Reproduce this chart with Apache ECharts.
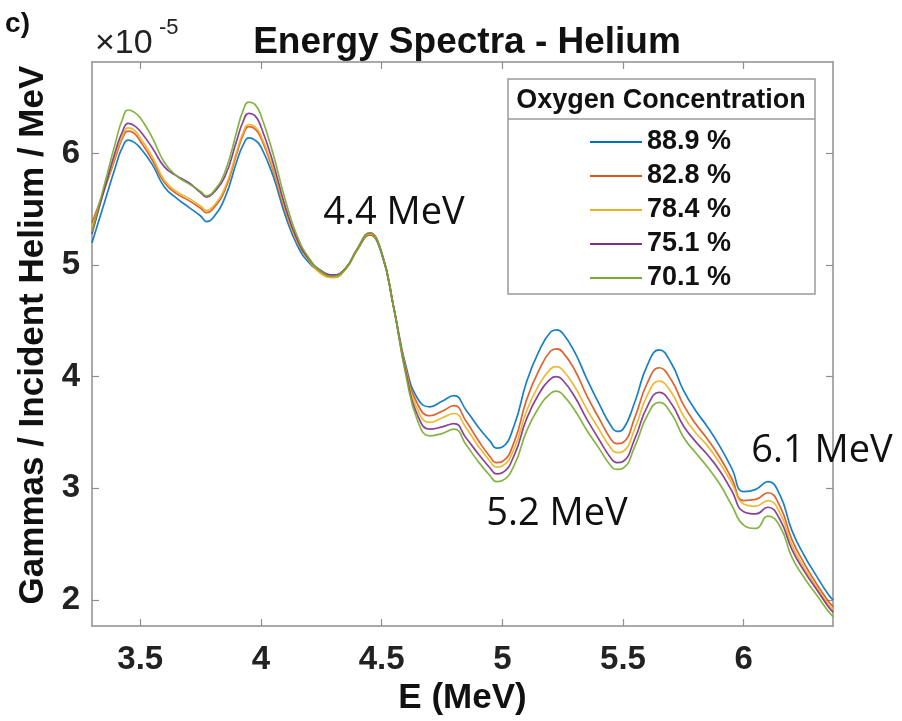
<!DOCTYPE html>
<html>
<head>
<meta charset="utf-8">
<title>Energy Spectra - Helium</title>
<script src="https://cdn.jsdelivr.net/npm/echarts@6/dist/echarts.min.js"></script>
<style>
  html, body { margin: 0; padding: 0; background: #ffffff; }
  #chart { width: 902px; height: 721px; }
</style>
</head>
<body>
<div id="chart"></div>
<script>
// Photon energy bins (MeV); extra bins sit on the peaks and valleys
const energy = [
  3.30, 3.35, 3.40, 3.425, 3.45, 3.475, 3.50, 3.55, 3.60, 3.65,
  3.70, 3.75, 3.775, 3.80, 3.85, 3.90, 3.925, 3.95, 3.975, 4.00,
  4.05, 4.10, 4.15, 4.20, 4.25, 4.30, 4.35, 4.40, 4.45, 4.50,
  4.55, 4.60, 4.65, 4.70, 4.75, 4.80, 4.85, 4.90, 4.95, 4.975,
  5.00, 5.05, 5.10, 5.15, 5.20, 5.225, 5.25, 5.30, 5.35, 5.40,
  5.45, 5.475, 5.50, 5.55, 5.60, 5.65, 5.70, 5.75, 5.80, 5.85,
  5.90, 5.95, 6.00, 6.05, 6.10, 6.15, 6.20, 6.25, 6.30, 6.35,
  6.37
];

// Gammas per incident helium per MeV, in units of 1e-5, one list per oxygen concentration
const oxy889 = [
  5.20, 5.55, 5.90, 6.05, 6.12, 6.10, 6.05, 5.90, 5.70, 5.60,
  5.52, 5.44, 5.39, 5.42, 5.60, 5.93, 6.07, 6.14, 6.12, 6.06,
  5.80, 5.45, 5.18, 5.02, 4.94, 4.91, 4.97, 5.14, 5.27, 5.10,
  4.62, 4.10, 3.80, 3.73, 3.78, 3.83, 3.70, 3.55, 3.42, 3.36,
  3.37, 3.57, 3.95, 4.22, 4.40, 4.42, 4.39, 4.22, 3.98, 3.76,
  3.56, 3.51, 3.53, 3.78, 4.10, 4.24, 4.12, 3.88, 3.70, 3.55,
  3.38, 3.18, 2.97, 2.99, 3.06, 2.94, 2.62, 2.40, 2.22, 2.05,
  2.00
];
const oxy828 = [
  5.38, 5.67, 5.98, 6.13, 6.20, 6.18, 6.11, 5.94, 5.74, 5.64,
  5.58, 5.51, 5.47, 5.50, 5.67, 6.00, 6.16, 6.24, 6.22, 6.14,
  5.85, 5.49, 5.21, 5.04, 4.93, 4.89, 4.96, 5.14, 5.27, 5.11,
  4.62, 4.08, 3.75, 3.65, 3.69, 3.74, 3.60, 3.43, 3.28, 3.23,
  3.24, 3.42, 3.79, 4.05, 4.23, 4.25, 4.22, 4.06, 3.83, 3.63,
  3.44, 3.40, 3.41, 3.64, 3.94, 4.08, 3.97, 3.75, 3.58, 3.44,
  3.28, 3.09, 2.89, 2.90, 2.96, 2.84, 2.54, 2.33, 2.15, 1.99,
  1.94
];
const oxy784 = [
  5.34, 5.67, 6.00, 6.15, 6.23, 6.21, 6.14, 5.97, 5.76, 5.66,
  5.60, 5.53, 5.49, 5.52, 5.69, 6.02, 6.18, 6.26, 6.24, 6.16,
  5.87, 5.50, 5.21, 5.04, 4.92, 4.89, 4.96, 5.14, 5.28, 5.11,
  4.62, 4.06, 3.70, 3.59, 3.63, 3.67, 3.54, 3.38, 3.24, 3.19,
  3.20, 3.36, 3.69, 3.92, 4.07, 4.09, 4.06, 3.91, 3.71, 3.53,
  3.36, 3.32, 3.33, 3.54, 3.83, 3.96, 3.86, 3.65, 3.50, 3.38,
  3.23, 3.05, 2.86, 2.84, 2.89, 2.78, 2.49, 2.29, 2.12, 1.96,
  1.91
];
const oxy751 = [
  5.28, 5.67, 6.04, 6.19, 6.27, 6.25, 6.20, 6.05, 5.88, 5.80,
  5.74, 5.65, 5.61, 5.64, 5.79, 6.12, 6.28, 6.36, 6.34, 6.24,
  5.92, 5.53, 5.23, 5.05, 4.95, 4.91, 4.97, 5.15, 5.29, 5.11,
  4.62, 4.04, 3.65, 3.53, 3.55, 3.58, 3.45, 3.31, 3.18, 3.13,
  3.14, 3.30, 3.62, 3.84, 3.98, 4.00, 3.97, 3.82, 3.62, 3.44,
  3.27, 3.23, 3.24, 3.45, 3.73, 3.86, 3.76, 3.56, 3.42, 3.30,
  3.16, 2.98, 2.79, 2.77, 2.83, 2.72, 2.45, 2.26, 2.10, 1.94,
  1.89
];
const oxy701 = [
  5.30, 5.71, 6.12, 6.30, 6.39, 6.37, 6.32, 6.14, 5.92, 5.80,
  5.73, 5.66, 5.62, 5.65, 5.83, 6.20, 6.38, 6.46, 6.44, 6.34,
  6.00, 5.59, 5.26, 5.06, 4.94, 4.90, 4.97, 5.15, 5.29, 5.11,
  4.62, 4.02, 3.60, 3.47, 3.49, 3.53, 3.39, 3.24, 3.11, 3.06,
  3.07, 3.21, 3.51, 3.72, 3.85, 3.87, 3.84, 3.70, 3.52, 3.36,
  3.20, 3.17, 3.18, 3.38, 3.65, 3.77, 3.67, 3.46, 3.32, 3.19,
  3.04, 2.85, 2.67, 2.64, 2.75, 2.66, 2.38, 2.20, 2.05, 1.90,
  1.85
];

const seriesNames = ['88.9 %', '82.8 %', '78.4 %', '75.1 %', '70.1 %'];
const seriesValues = [oxy889, oxy828, oxy784, oxy751, oxy701];
const seriesColors = ['#0072BD', '#D95319', '#EDB120', '#7E2F8E', '#77AC30'];

const xTicks = [3.5, 4, 4.5, 5, 5.5, 6];
const yTicks = [2, 3, 4, 5, 6];

// Peak annotations
const peakLabels = ['4.4 MeV', '5.2 MeV', '6.1 MeV'];

const FONT = '"Liberation Sans", Arial, Helvetica, sans-serif';
const frameColor = '#8e8e8e';

const frameAxis = {
  axisLine: { show: true, lineStyle: { color: frameColor, width: 1.5 } },
  splitLine: { show: false }
};

const chart = echarts.init(document.getElementById('chart'), null, { renderer: 'canvas' });

const option = {
  animation: false,
  backgroundColor: '#ffffff',
  title: {
    text: 'Energy Spectra - Helium',
    left: 462,
    top: 19,
    textAlign: 'center',
    textStyle: { fontFamily: FONT, fontSize: 37, fontWeight: 'bold', color: '#111' }
  },
  grid: { left: 92, right: 69, top: 62, bottom: 94, containLabel: false },
  xAxis: [
    Object.assign({}, frameAxis, {
      type: 'value', min: 3.3, max: 6.37, position: 'bottom',
      axisTick: { show: true, inside: true, length: 7, customValues: xTicks,
                  lineStyle: { color: frameColor, width: 1.2 } },
      axisLabel: { customValues: xTicks, margin: 17, fontFamily: FONT, fontSize: 33,
                   fontWeight: 'bold', color: '#222' },
      name: 'E (MeV)', nameLocation: 'middle', nameGap: 48,
      nameTextStyle: { fontFamily: FONT, fontSize: 35, fontWeight: 'bold', color: '#111' }
    }),
    Object.assign({}, frameAxis, {
      type: 'value', min: 3.3, max: 6.37, position: 'top',
      axisTick: { show: true, inside: true, length: 7, customValues: xTicks,
                  lineStyle: { color: frameColor, width: 1.2 } },
      axisLabel: { show: false }
    })
  ],
  yAxis: [
    Object.assign({}, frameAxis, {
      type: 'value', min: 1.765, max: 6.82, position: 'left',
      axisTick: { show: true, inside: true, length: 7, customValues: yTicks,
                  lineStyle: { color: frameColor, width: 1.2 } },
      axisLabel: { customValues: yTicks, margin: 12, fontFamily: FONT, fontSize: 33,
                   fontWeight: 'bold', color: '#222' },
      name: 'Gammas / Incident Helium / MeV', nameLocation: 'middle', nameGap: 40,
      nameTextStyle: { fontFamily: FONT, fontSize: 35, fontWeight: 'bold', color: '#111',
                       padding: [0, 0, 0, 18] }
    }),
    Object.assign({}, frameAxis, {
      type: 'value', min: 1.765, max: 6.82, position: 'right',
      axisTick: { show: true, inside: true, length: 7, customValues: yTicks,
                  lineStyle: { color: frameColor, width: 1.2 } },
      axisLabel: { show: false }
    })
  ],
  legend: {
    orient: 'vertical',
    left: 590,
    top: 128,
    padding: 0,
    itemGap: 6,
    itemWidth: 52,
    itemHeight: 2,
    icon: 'rect',
    z: 6,
    data: seriesNames,
    textStyle: { fontFamily: FONT, fontSize: 27, fontWeight: 'bold', color: '#111', lineHeight: 28 }
  },
  graphic: [
    // legend frame with its title row
    { type: 'rect', z: 4, shape: { x: 508, y: 79, width: 307, height: 215 },
      style: { fill: '#ffffff', stroke: '#9a9a9a', lineWidth: 1.5 } },
    { type: 'line', z: 5, shape: { x1: 508, y1: 119, x2: 815, y2: 119 },
      style: { stroke: '#9a9a9a', lineWidth: 1.5 } },
    { type: 'text', z: 6, x: 661, y: 101,
      style: { text: 'Oxygen Concentration', fontFamily: FONT, fontSize: 27, fontWeight: 'bold',
               fill: '#111', align: 'center', verticalAlign: 'middle' } },
    // axis exponent
    { type: 'text', z: 6, x: 95, y: 44,
      style: { text: '×10', fontFamily: FONT, fontSize: 34, fill: '#222',
               align: 'left', verticalAlign: 'middle' } },
    { type: 'text', z: 6, x: 159, y: 28,
      style: { text: '-5', fontFamily: FONT, fontSize: 22, fill: '#222',
               align: 'left', verticalAlign: 'middle' } },
    // panel tag at the corner
    { type: 'text', z: 6, x: 30, y: 24,
      style: { text: 'c)', fontFamily: FONT, fontSize: 28, fontWeight: 'bold', fill: '#111',
               align: 'right', verticalAlign: 'middle' } },
    // peak annotations
    { type: 'text', z: 6, x: 394, y: 213,
      style: { text: peakLabels[0], fontFamily: 'Open Sans', fontSize: 38, fill: '#111',
               align: 'center', verticalAlign: 'middle' } },
    { type: 'text', z: 6, x: 557, y: 514,
      style: { text: peakLabels[1], fontFamily: 'Open Sans', fontSize: 38, fill: '#111',
               align: 'center', verticalAlign: 'middle' } },
    { type: 'text', z: 6, x: 822, y: 451,
      style: { text: peakLabels[2], fontFamily: 'Open Sans', fontSize: 38, fill: '#111',
               align: 'center', verticalAlign: 'middle' } }
  ],
  series: seriesNames.map((name, k) => ({
    name: name,
    type: 'line',
    xAxisIndex: 0,
    yAxisIndex: 0,
    smooth: 0.5,
    showSymbol: false,
    symbol: 'none',
    color: seriesColors[k],
    lineStyle: { color: seriesColors[k], width: 1.7, opacity: 0.9 },
    z: 2,
    data: energy.map((e, i) => [e, seriesValues[k][i]])
  }))
};

chart.setOption(option);
</script>
</body>
</html>
